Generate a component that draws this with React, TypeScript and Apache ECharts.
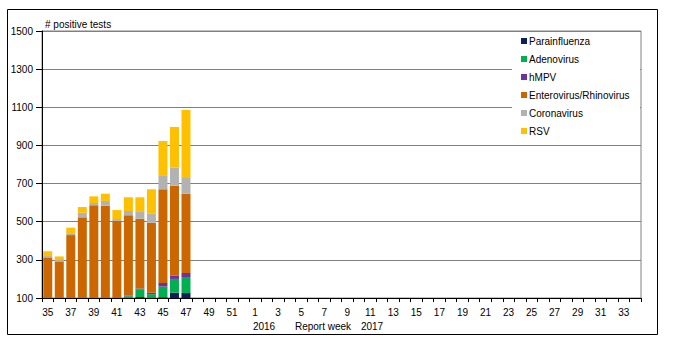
import React, { useEffect, useRef } from "react";
import * as echarts from "echarts";

// Report weeks: 35..52 of 2015/16 season, then 1..34
const weeks: string[] = [
  "35","36","37","38","39","40","41","42","43","44","45","46","47","48","49","50","51","52",
  "1","2","3","4","5","6","7","8","9","10","11","12","13","14","15","16","17","18","19","20",
  "21","22","23","24","25","26","27","28","29","30","31","32","33","34",
];

// Visible segment heights above the axis minimum (weeks 35..47)
const axisBase = [100, 100, 100, 100, 100, 100, 100, 100, 100, 100, 100, 100, 100];
const parainfluenza = [0, 0, 0, 0, 0, 0, 0, 2, 5, 3, 4, 28, 26];
const adenovirus = [0, 0, 0, 0, 0, 0, 0, 7, 40, 17, 56, 72, 84];
const hmpv = [0, 0, 0, 0, 0, 0, 0, 4, 5, 8, 19, 17, 21];
const enteroRhino = [213, 192, 330, 423, 486, 484, 404, 421, 366, 367, 491, 472, 416];
const coronavirus = [7, 7, 10, 24, 12, 25, 10, 22, 39, 49, 70, 94, 87];
const rsv = [25, 19, 29, 30, 35, 38, 47, 72, 73, 126, 183, 214, 352];

const yTicks = { min: 100, max: 1500, interval: 200 };

const seriesDefs = [
  { name: "Parainfluenza", data: parainfluenza, color: "#0B1F5C" },
  { name: "Adenovirus", data: adenovirus, color: "#00B050" },
  { name: "hMPV", data: hmpv, color: "#7030A0" },
  { name: "Enterovirus/Rhinovirus", data: enteroRhino, color: "#CC6600" },
  { name: "Coronavirus", data: coronavirus, color: "#B2B2B2" },
  { name: "RSV", data: rsv, color: "#FFC000" },
];

const FONT = "'Liberation Sans', Arial, sans-serif";

export default function App() {
  const ref = useRef<HTMLDivElement>(null);
  useEffect(() => {
    if (!ref.current) return;
    const chart = echarts.init(ref.current, undefined, { renderer: "svg" });
    const series: any[] = [
      {
        name: "_base",
        type: "bar",
        stack: "total",
        data: axisBase,
        barWidth: 9,
        silent: true,
        itemStyle: { color: "transparent" },
      },
      ...seriesDefs.map((s) => ({
        name: s.name,
        type: "bar",
        stack: "total",
        data: s.data,
        barWidth: 9,
        itemStyle: { color: s.color },
      })),
    ];
    chart.setOption({
      animation: false,
      backgroundColor: "#ffffff",
      textStyle: { fontFamily: FONT },
      grid: {
        left: 42,
        right: 36,
        top: 31,
        bottom: 49,
        show: true,
        borderColor: "#808080",
        borderWidth: 1,
        backgroundColor: "transparent",
      },
      legend: {
        data: seriesDefs.map((s) => s.name),
        orient: "vertical",
        left: 516,
        top: 30,
        icon: "rect",
        itemWidth: 6,
        itemHeight: 6,
        itemGap: 6,
        z: 20,
        textStyle: { fontSize: 10, color: "#000", fontFamily: FONT, lineHeight: 12, padding: [0, 0, 0, -3] },
      },
      xAxis: {
        type: "category",
        data: weeks,
        boundaryGap: true,
        axisLine: { lineStyle: { color: "#000", width: 1 } },
        axisTick: { show: true, interval: 0, length: 4, lineStyle: { color: "#000" } },
        axisLabel: { interval: 1, fontSize: 10, color: "#000", margin: 9, fontFamily: FONT },
        splitLine: { show: false },
      },
      yAxis: {
        type: "value",
        min: yTicks.min,
        max: yTicks.max,
        interval: yTicks.interval,
        axisLine: { show: true, lineStyle: { color: "#000", width: 1 } },
        axisTick: { show: true, length: 6, lineStyle: { color: "#000" } },
        axisLabel: {
          fontSize: 10,
          color: "#000",
          margin: 9,
          fontFamily: FONT,
          formatter: (v: number) => String(v),
        },
        splitLine: { show: true, lineStyle: { color: "#808080", width: 1 } },
      },
      graphic: [
        {
          type: "rect",
          shape: { x: 7.5, y: 9.5, width: 650, height: 325 },
          style: { fill: "none", stroke: "#000", lineWidth: 1 },
          z: 1,
          silent: true,
        },
        {
          type: "rect",
          shape: { x: 512, y: 32, width: 128, height: 108 },
          style: { fill: "#ffffff" },
          z: 10,
          silent: true,
        },
        {
          type: "text",
          x: 45,
          y: 24,
          style: { text: "# positive tests", fill: "#000", font: `10px ${FONT}`, verticalAlign: "middle" },
          z: 11,
        },
        {
          type: "text",
          x: 264,
          y: 326,
          style: { text: "2016", fill: "#000", font: `10px ${FONT}`, align: "center", verticalAlign: "middle" },
          z: 11,
        },
        {
          type: "text",
          x: 323,
          y: 326,
          style: { text: "Report week", fill: "#000", font: `10px ${FONT}`, align: "center", verticalAlign: "middle" },
          z: 11,
        },
        {
          type: "text",
          x: 372,
          y: 326,
          style: { text: "2017", fill: "#000", font: `10px ${FONT}`, align: "center", verticalAlign: "middle" },
          z: 11,
        },
      ],
      series,
    });
    return () => chart.dispose();
  }, []);
  return (
    <div
      ref={ref}
      style={{ position: "fixed", left: 0, top: 0, width: 677, height: 347, background: "#fff" }}
    />
  );
}
